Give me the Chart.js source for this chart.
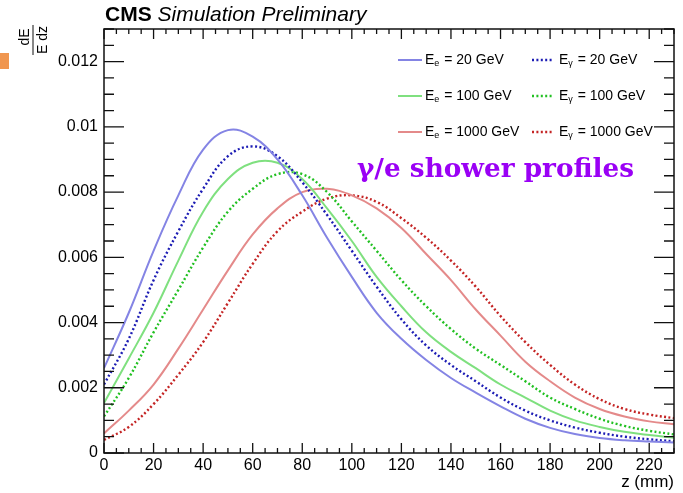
<!DOCTYPE html>
<html>
<head>
<meta charset="utf-8">
<script src="https://cdn.jsdelivr.net/npm/chart.js@4.4.1/dist/chart.umd.min.js"></script>
<style>
  html, body { margin:0; padding:0; background:#fff; }
  #wrap { position:relative; width:683px; height:493px; }
</style>
</head>
<body>
<div id="wrap"><canvas id="profiles" width="683" height="493"></canvas></div>
<script>
// z positions (mm) where the profiles were read
const zPoints = [0,10,20,30,40,50,60,70,80,90,100,110,120,130,140,150,160,170,180,190,200,210,220,230];

// dE/(E dz) for electrons and photons
const electron20   = [0.0026,0.0043,0.0062,0.0079,0.0093,0.0099,0.0097,0.0090,0.0079,0.0066,0.0054,0.0043,0.0035,0.00285,0.0023,0.00185,0.00143,0.00105,0.00077,0.00058,0.00046,0.00039,0.00035,0.00032];
const photon20     = [0.0021,0.0035,0.0053,0.0068,0.0081,0.0091,0.0094,0.0091,0.0083,0.0073,0.0062,0.0051,0.0041,0.0033,0.0027,0.0022,0.0017,0.0013,0.0010,0.00078,0.00062,0.0005,0.00042,0.00036];
const electron100  = [0.00153,0.0029,0.0043,0.0059,0.0074,0.0084,0.0089,0.0089,0.0084,0.0075,0.0065,0.0054,0.0045,0.0037,0.0031,0.0026,0.0021,0.0017,0.0013,0.0010,0.0008,0.00065,0.00055,0.00047];
const photon100    = [0.00112,0.0023,0.0037,0.0050,0.0063,0.0074,0.0081,0.00855,0.00855,0.0080,0.0071,0.0062,0.0053,0.0045,0.0038,0.0032,0.0027,0.0022,0.0017,0.00135,0.00105,0.00083,0.00068,0.00057];
const electron1000 = [0.0006,0.0013,0.0021,0.0032,0.0044,0.0056,0.0067,0.0075,0.0080,0.0081,0.0079,0.0075,0.0069,0.0061,0.0053,0.0044,0.0036,0.0028,0.0022,0.0017,0.00135,0.00112,0.00097,0.00088];
const photon1000   = [0.0004,0.0008,0.0015,0.0024,0.0034,0.0046,0.0058,0.0068,0.0074,0.0078,0.0079,0.0077,0.0072,0.0066,0.0059,0.0051,0.0042,0.0034,0.0027,0.0021,0.00165,0.00135,0.00118,0.00107];

const energies = [20, 100, 1000];
const particleSubs = ['e', 'γ'];

const xTickLabels = [0,20,40,60,80,100,120,140,160,180,200,220];
const yTickLabels = [0,0.002,0.004,0.006,0.008,0.01,0.012];

const FONT = "'Liberation Sans', Arial, sans-serif";

function toPoints(arr) { return zPoints.map((z,i)=>({x:z, y:arr[i]})); }

function lineSet(label, arr, color, dotted) {
  return {
    label: label,
    data: toPoints(arr),
    borderColor: color,
    borderWidth: dotted ? 2.4 : 2,
    borderDash: dotted ? [2, 2.4] : [],
    pointRadius: 0,
    tension: 0.4,
    fill: false
  };
}

// ROOT style frame, inward ticks, title, y label, legend and overlay text
const decorations = {
  id: 'decorations',
  afterDatasetsDraw(chart) {
    const ctx = chart.ctx;
    const a = chart.chartArea;
    const xs = chart.scales.x, ys = chart.scales.y;
    ctx.save();
    ctx.strokeStyle = '#111';
    ctx.lineWidth = 1.5;
    ctx.strokeRect(a.left, a.top, a.right - a.left, a.bottom - a.top);

    ctx.lineWidth = 1.3;
    ctx.beginPath();
    for (let v = 0; v <= 230.001; v += 5) {
      const px = xs.getPixelForValue(v);
      const len = (Math.round(v) % 20 === 0) ? 10 : 5;
      ctx.moveTo(px, a.bottom); ctx.lineTo(px, a.bottom - len);
      ctx.moveTo(px, a.top); ctx.lineTo(px, a.top + len);
    }
    for (let i = 0; i <= 26; i++) {
      const v = i * 0.0005;
      const py = ys.getPixelForValue(v);
      const len = (i % 4 === 0) ? 20 : 10;
      ctx.moveTo(a.left, py); ctx.lineTo(a.left + len, py);
      ctx.moveTo(a.right, py); ctx.lineTo(a.right - len, py);
    }
    ctx.stroke();

    // title
    ctx.fillStyle = '#000';
    ctx.textBaseline = 'alphabetic';
    ctx.textAlign = 'left';
    ctx.font = 'bold 21px ' + FONT;
    ctx.fillText('CMS', 105, 21);
    const w = ctx.measureText('CMS ').width;
    ctx.font = 'italic 21px ' + FONT;
    ctx.fillText('Simulation Preliminary', 105 + w, 21);

    // y axis label dE / (E dz), rotated
    ctx.save();
    ctx.translate(33, 40);
    ctx.rotate(-Math.PI / 2);
    ctx.font = '14px ' + FONT;
    ctx.textAlign = 'center';
    ctx.textBaseline = 'alphabetic';
    ctx.fillText('dE', 3, -4);
    ctx.textBaseline = 'top';
    ctx.fillText('E dz', 0, 3);
    const dw = ctx.measureText('E dz').width;
    ctx.lineWidth = 1;
    ctx.beginPath();
    ctx.moveTo(-dw / 2 - 1, 0); ctx.lineTo(dw / 2 + 1, 0);
    ctx.stroke();
    ctx.restore();

    // legend
    const rows = [60, 96, 132];
    const cols = [[398, 422], [532, 553]];
    chart.data.datasets.forEach((ds, i) => {
      const row = rows[Math.floor(i / 2)];
      const col = cols[i % 2];
      ctx.save();
      ctx.strokeStyle = ds.borderColor;
      ctx.lineWidth = ds.borderWidth;
      ctx.setLineDash(ds.borderDash);
      ctx.beginPath();
      ctx.moveTo(col[0], row); ctx.lineTo(col[1], row);
      ctx.stroke();
      ctx.restore();
      let tx = col[1] + (i % 2 ? 6 : 3);
      ctx.fillStyle = '#000';
      ctx.textAlign = 'left';
      ctx.textBaseline = 'middle';
      ctx.font = '14px ' + FONT;
      ctx.fillText('E', tx, row);
      tx += ctx.measureText('E').width;
      ctx.font = '9px ' + FONT;
      ctx.fillText(particleSubs[i % 2], tx, row + 4);
      tx += ctx.measureText(particleSubs[i % 2]).width + 1;
      ctx.font = '14px ' + FONT;
      ctx.fillText(' = ' + energies[Math.floor(i / 2)] + ' GeV', tx, row);
    });

    // orange slide marker
    ctx.fillStyle = '#f0964f';
    ctx.fillRect(0, 53, 9, 16);

    // overlay caption
    ctx.fillStyle = '#9a00f5';
    ctx.textAlign = 'left';
    ctx.textBaseline = 'alphabetic';
    const caption = 'γ/e shower profiles';
    ctx.font = "bold 24px 'DejaVu Serif', serif";
    const cw = ctx.measureText(caption).width;
    const size = 24 * 277 / cw;
    ctx.font = "bold " + size.toFixed(1) + "px 'DejaVu Serif', serif";
    ctx.fillText(caption, 357, 177);
    ctx.restore();
  }
};

new Chart(document.getElementById('profiles'), {
  type: 'line',
  data: {
    datasets: [
      lineSet('E_e = 20 GeV', electron20, '#8484e4', false),
      lineSet('E_γ = 20 GeV', photon20, '#1c1cb4', true),
      lineSet('E_e = 100 GeV', electron100, '#7fe07f', false),
      lineSet('E_γ = 100 GeV', photon100, '#22c022', true),
      lineSet('E_e = 1000 GeV', electron1000, '#e48a8a', false),
      lineSet('E_γ = 1000 GeV', photon1000, '#c42424', true)
    ]
  },
  options: {
    responsive: false,
    animation: false,
    layout: { padding: { left: 0, right: 9, top: 29, bottom: 0 } },
    plugins: { legend: { display: false }, tooltip: { enabled: false } },
    scales: {
      x: {
        type: 'linear',
        min: 0, max: 230,
        grid: { display: false, drawTicks: false },
        border: { display: false },
        afterBuildTicks: s => { s.ticks = xTickLabels.map(v => ({ value: v })); },
        afterFit: s => { s.height = 40; },
        ticks: { color: '#000', font: { family: FONT, size: 16 }, padding: 3, maxRotation: 0 },
        title: { display: true, text: 'z (mm)', align: 'end', color: '#000', font: { family: FONT, size: 17 }, padding: { top: 0, bottom: 0 } }
      },
      y: {
        type: 'linear',
        min: 0, max: 0.013,
        grid: { display: false, drawTicks: false },
        border: { display: false },
        afterBuildTicks: s => { s.ticks = yTickLabels.map(v => ({ value: v })); },
        afterFit: s => { s.width = 104; },
        ticks: {
          color: '#000', font: { family: FONT, size: 16 }, padding: 6,
          callback: v => String(parseFloat(v.toFixed(4)))
        }
      }
    }
  },
  plugins: [decorations]
});
</script>
</body>
</html>
